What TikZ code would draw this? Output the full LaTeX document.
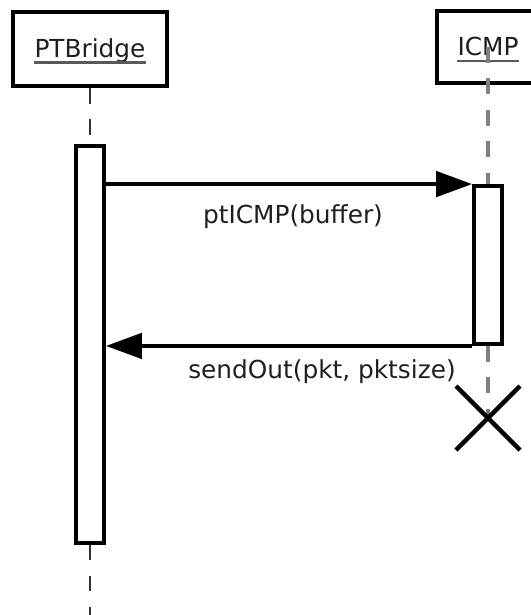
\documentclass[tikz,border=0pt]{standalone}
\usepackage{fontspec}
\setmainfont{DejaVu Sans}
\usetikzlibrary{arrows.meta}
\begin{document}
\begin{tikzpicture}[x=0.75pt,y=-0.75pt,
  headbox/.style={draw=black, line width=3.5pt, fill=white, inner sep=0pt},
  actbox/.style={draw=black, line width=2.9pt, fill=white, inner sep=0pt, minimum width=21pt},
  lbl/.style={inner sep=0pt, anchor=base, text=black!88, font=\fontsize{18.6pt}{22pt}\selectfont},
  uline/.style={draw=black!65, line width=2pt},
  lifeA/.style={draw=black!80, line width=2pt, dash pattern=on 11.5pt off 11.8pt},
  lifeB/.style={draw=black!50, line width=2.6pt, dash pattern=on 12pt off 11.6pt},
  msg/.style={draw=black, line width=2.9pt, -{Triangle[length=27pt,width=19pt]}},
  destroy/.style={draw=black, line width=3.3pt},
]
\useasboundingbox (0,0) rectangle (531,615);

% object headers
\node[headbox, minimum width=115.5pt, minimum height=55.5pt] (ptbHead) at (90,49) {};
\node[lbl] (ptbLbl) at (90,57) {PTBridge};
\draw[uline] ([yshift=-4pt]ptbLbl.base west) -- ([yshift=-4pt]ptbLbl.base east);

\node[headbox, minimum width=76.5pt, minimum height=54pt] (icmpHead) at (488,47) {};
\node[lbl] (icmpLbl) at (488,55) {ICMP};
\draw[uline] ([yshift=-4.5pt]icmpLbl.base west) -- ([yshift=-4.5pt]icmpLbl.base east);

% activation bars
\node[actbox, minimum height=297.75pt] (ptbAct) at (90,344.5) {};
\node[actbox, minimum height=118.5pt] (icmpAct) at (488,265) {};

% lifelines
\coordinate (ptbBottom) at (90,615);
\coordinate (icmpEnd) at (488,418);
\draw[lifeA] (ptbHead.south) -- (ptbAct.north);
\draw[lifeA] (ptbAct.south) -- (ptbBottom);
\draw[lifeB] (icmpHead.center) -- (icmpAct.north);
\draw[lifeB] (icmpAct.south) -- (icmpEnd);

% redraw the ICMP activation bar over its lifeline
\node[actbox, minimum height=118.5pt] at (icmpAct.center) {};

% messages
\draw[msg] (ptbAct.east |- icmpAct.north) -- (icmpAct.north west);
\node[lbl] (callLbl) at (293,223) {ptICMP(buffer)};
\draw[msg] (icmpAct.south west) -- (ptbAct.east |- icmpAct.south);
\node[lbl] (retLbl) at (322,378) {sendOut(pkt, pktsize)};

% destruction mark
\draw[destroy] ([shift={(-32,-32)}]icmpEnd) -- ([shift={(32,32)}]icmpEnd);
\draw[destroy] ([shift={(32,-32)}]icmpEnd) -- ([shift={(-32,32)}]icmpEnd);
\end{tikzpicture}
\end{document}
